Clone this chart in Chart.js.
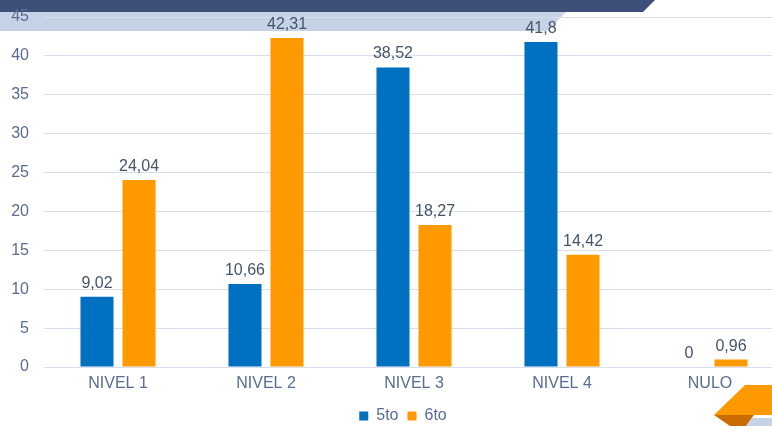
<!DOCTYPE html>
<html>
<head>
<meta charset="utf-8">
<script src="https://cdn.jsdelivr.net/npm/chart.js@4"></script>
<style>
    html, body { margin: 0; padding: 0; background: #fff; overflow: hidden; }
    #wrap { position: relative; width: 790px; height: 426px; }
</style>
</head>
<body>
<div id="wrap"><canvas id="nivelesChart"></canvas></div>
<script>
const categories = ['NIVEL 1', 'NIVEL 2', 'NIVEL 3', 'NIVEL 4', 'NULO'];
const quinto = [9.02, 10.66, 38.52, 41.8, 0];
const sexto = [24.04, 42.31, 18.27, 14.42, 0.96];
const seriesNames = ['5to', '6to'];

const blue = '#0070C0';
const orange = '#FF9900';
const textColor = '#5A6C93';
const labelColor = '#44546A';
const gridColor = '#D9DFEA';
const fontFamily = '"Liberation Sans", Arial, sans-serif';

// Background decoration (banner at top, corner shape at bottom right)
const decoration = {
    id: 'decoration',
    beforeDraw(chart) {
        const ctx = chart.ctx;
        const poly = (pts, color) => {
            ctx.beginPath();
            ctx.moveTo(pts[0][0], pts[0][1]);
            pts.slice(1).forEach(p => ctx.lineTo(p[0], p[1]));
            ctx.closePath();
            ctx.fillStyle = color;
            ctx.fill();
        };
        ctx.save();
        poly([[0, 12], [566, 12], [547, 31], [0, 31]], '#C6D3E6');
        poly([[0, 0], [655, 0], [643, 12], [0, 12]], '#3E5079');
        poly([[745, 385], [790, 385], [790, 415], [714, 415]], '#FF9900');
        poly([[714, 415], [754, 415], [746, 426], [730, 426]], '#C86C00');
        poly([[752, 418], [790, 418], [790, 426], [746, 426]], '#C6D3E6');
        ctx.restore();
    }
};

// Value labels above bars, decimal comma
const valueLabels = {
    id: 'valueLabels',
    afterDatasetsDraw(chart) {
        const ctx = chart.ctx;
        ctx.save();
        ctx.font = '16px ' + fontFamily;
        ctx.fillStyle = labelColor;
        ctx.textAlign = 'center';
        ctx.textBaseline = 'alphabetic';
        chart.data.datasets.forEach((ds, i) => {
            chart.getDatasetMeta(i).data.forEach((bar, j) => {
                const txt = String(ds.data[j]).replace('.', ',');
                ctx.fillText(txt, bar.x, bar.y - 9);
            });
        });
        ctx.restore();
    }
};

// fixed legend height, legend centred as in the uncropped slide
const legendFix = {
    id: 'legendFix',
    beforeLayout(chart) {
        const lg = chart.legend;
        if (lg && !lg._fixed) {
            const fit = lg.fit;
            lg.fit = function() {
                fit.call(this);
                this.height = 27;
            };
            lg._fixed = true;
        }
    },
    afterLayout(chart) {
        if (chart.legend) chart.legend.left = 22;
    }
};

new Chart(document.getElementById('nivelesChart'), {
    type: 'bar',
    data: {
        labels: categories,
        datasets: [{
            label: seriesNames[0],
            data: quinto,
            backgroundColor: blue,
            barPercentage: 0.786,
            categoryPercentage: 0.568
        }, {
            label: seriesNames[1],
            data: sexto,
            backgroundColor: orange,
            barPercentage: 0.786,
            categoryPercentage: 0.568
        }]
    },
    options: {
        responsive: true,
        maintainAspectRatio: false,
        animation: false,
        layout: {
            padding: { top: 17, right: 6, left: 0, bottom: 0 }
        },
        plugins: {
            legend: {
                position: 'bottom',
                labels: {
                    boxWidth: 9,
                    boxHeight: 9,
                    padding: 9,
                    color: textColor,
                    font: { family: fontFamily, size: 16 }
                }
            },
            tooltip: { enabled: false }
        },
        scales: {
            y: {
                min: 0,
                max: 45,
                ticks: {
                    stepSize: 5,
                    padding: 15,
                    color: textColor,
                    font: { family: fontFamily, size: 16 }
                },
                grid: { color: gridColor, drawTicks: false },
                border: { display: false },
                afterFit(scale) {
                    scale.width = 44;
                    scale.paddingTop = 0;
                    scale.paddingBottom = 0;
                }
            },
            x: {
                ticks: {
                    padding: 7,
                    color: textColor,
                    font: { family: fontFamily, size: 16 }
                },
                grid: { display: false, drawTicks: false },
                border: { color: gridColor },
                afterFit(scale) { scale.height = 32; }
            }
        }
    },
    plugins: [decoration, valueLabels, legendFix]
});
</script>
</body>
</html>
